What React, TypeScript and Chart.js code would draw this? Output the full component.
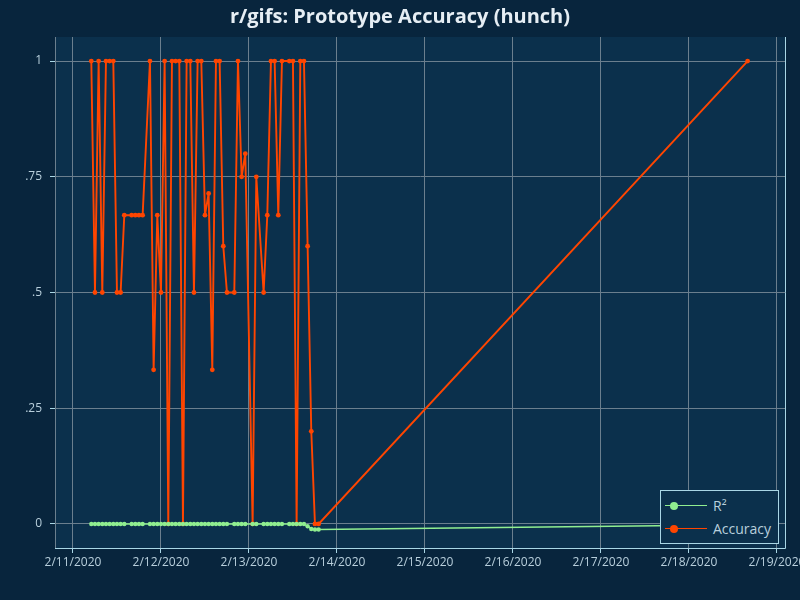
import { useEffect, useRef } from 'react';
import { Chart, registerables } from 'chart.js';

Chart.register(...registerables);

// hours since 2/11/2020 00:00
const hours = [5, 6, 7, 8, 9, 10, 11, 12, 13, 14, 16, 17, 18, 19, 21, 22, 23, 24, 25, 26, 27, 28, 29, 30, 31, 32, 33, 34, 35, 36, 37, 38, 39, 40, 41, 42, 44, 45, 46, 47, 49, 50, 52, 53, 54, 55, 56, 57, 59, 60, 61, 62, 63, 64, 65, 66, 67, 184];
const accuracy = [1, 0.5, 1, 0.5, 1, 1, 1, 0.5, 0.5, 0.667, 0.667, 0.667, 0.667, 0.667, 1, 0.333, 0.667, 0.5, 1, 0, 1, 1, 1, 0, 1, 1, 0.5, 1, 1, 0.667, 0.714, 0.333, 1, 1, 0.6, 0.5, 0.5, 1, 0.75, 0.8, 0, 0.75, 0.5, 0.667, 1, 1, 0.667, 1, 1, 1, 0, 1, 1, 0.6, 0.2, 0, 0, 1];
const rSquared = [0, 0, 0, 0, 0, 0, 0, 0, 0, 0, 0, 0, 0, 0, 0, 0, 0, 0, 0, 0, 0, 0, 0, 0, 0, 0, 0, 0, 0, 0, 0, 0, 0, 0, 0, 0, 0, 0, 0, 0, 0, 0, 0, 0, 0, 0, 0, 0, 0, 0, 0, 0, 0, -0.005, -0.011, -0.012, -0.012, -0.002];
const yTicks = [0, 0.25, 0.5, 0.75, 1];
const yTickLabels = ['0', '.25', '.5', '.75', '1'];

const GREEN = '#90ee90';
const ORANGE = '#ff4500';
const TEXT = '#b8cfdc';

const plotBg = {
  id: 'plotBg',
  beforeDraw(chart: Chart) {
    const { ctx, chartArea: a } = chart;
    ctx.save();
    ctx.fillStyle = '#0b304c';
    ctx.fillRect(a.left, a.top, a.right - a.left, a.bottom - a.top);
    ctx.restore();
  },
  afterDatasetsDraw(chart: Chart) {
    const { ctx, chartArea: a } = chart;
    ctx.save();
    ctx.strokeStyle = '#a9d6e5';
    ctx.lineWidth = 1;
    ctx.beginPath();
    ctx.moveTo(a.left, a.bottom + 0.5);
    ctx.lineTo(a.right + 0.5, a.bottom + 0.5);
    ctx.lineTo(a.right + 0.5, a.top);
    ctx.stroke();
    ctx.restore();
  },
};

function dateLabel(h: number) {
  const d = new Date(2020, 1, 11 + Math.round(h / 24));
  return `${d.getMonth() + 1}/${d.getDate()}/${d.getFullYear()}`;
}

export default function App() {
  const canvasRef = useRef<HTMLCanvasElement>(null);
  const chartRef = useRef<Chart | null>(null);

  useEffect(() => {
    if (!canvasRef.current) return;
    if (chartRef.current) chartRef.current.destroy();
    document.body.style.margin = '0';

    chartRef.current = new Chart(canvasRef.current, {
      type: 'line',
      data: {
        datasets: [
          {
            label: 'R²',
            data: hours.map((h, i) => ({ x: h, y: rSquared[i] })),
            borderColor: GREEN,
            backgroundColor: GREEN,
            borderWidth: 1.5,
            pointRadius: 2.2,
            pointBorderWidth: 0,
          },
          {
            label: 'Accuracy',
            data: hours.map((h, i) => ({ x: h, y: accuracy[i] })),
            borderColor: ORANGE,
            backgroundColor: ORANGE,
            borderWidth: 1.9,
            pointRadius: 2.4,
            pointBorderWidth: 0,
          },
        ],
      },
      options: {
        responsive: false,
        animation: false,
        layout: { padding: 0 },
        plugins: {
          legend: { display: false },
          tooltip: { enabled: false },
          title: {
            display: true,
            text: 'r/gifs: Prototype Accuracy (hunch)',
            color: '#e6eef4',
            font: { family: 'Open Sans', size: 20, weight: 'bold' },
            padding: { top: 5, bottom: 8 },
          },
        },
        scales: {
          x: {
            type: 'linear',
            min: -4.9,
            max: 194.2,
            afterBuildTicks: (axis: any) => {
              axis.ticks = [0, 24, 48, 72, 96, 120, 144, 168, 192].map((v) => ({ value: v }));
            },
            afterFit: (axis: any) => {
              axis.height = 52;
              axis.paddingRight = 15;
            },
            grid: { color: '#6b7f8e', drawTicks: true, tickLength: 5, tickColor: '#a9d6e5' },
            border: { display: false },
            ticks: {
              color: TEXT,
              font: { family: 'Open Sans', size: 12 },
              maxRotation: 0,
              autoSkip: false,
              padding: 2,
              callback: (v: any) => dateLabel(Number(v)),
            },
          },
          y: {
            min: -0.052,
            max: 1.052,
            afterBuildTicks: (axis: any) => {
              axis.ticks = yTicks.map((v) => ({ value: v }));
            },
            afterFit: (axis: any) => {
              axis.width = 55;
            },
            grid: { color: '#6b7f8e', tickLength: 5, tickColor: '#a9d6e5' },
            border: { color: '#6b7f8e' },
            ticks: {
              color: TEXT,
              font: { family: 'Open Sans', size: 12 },
              padding: 8,
              callback: (v: any) => {
                const i = yTicks.indexOf(Number(v));
                return i >= 0 ? yTickLabels[i] : '';
              },
            },
          },
        },
      },
      plugins: [plotBg],
    });

    return () => {
      if (chartRef.current) chartRef.current.destroy();
    };
  }, []);

  const legendRow = (color: string, label: string) => (
    <div style={{ display: 'flex', alignItems: 'center', height: 23 }}>
      <div style={{ position: 'relative', width: 42, height: 10, marginRight: 6 }}>
        <div style={{ position: 'absolute', left: 0, right: 0, top: 4, height: 1.5, background: color }} />
        <div style={{ position: 'absolute', left: 5, top: 1, width: 8, height: 8, borderRadius: 4, background: color }} />
      </div>
      <span>{label}</span>
    </div>
  );

  return (
    <div style={{ position: 'relative', width: 800, height: 600, background: '#08253d' }}>
      <canvas ref={canvasRef} width={800} height={600} />
      <div
        style={{
          position: 'absolute',
          left: 660,
          top: 490,
          width: 119,
          padding: '3px 4px',
          border: '1px solid #a9d6e5',
          background: '#0b304c',
          color: TEXT,
          fontFamily: 'Open Sans',
          fontSize: 14,
          boxSizing: 'border-box',
        }}
      >
        {legendRow(GREEN, 'R²')}
        {legendRow(ORANGE, 'Accuracy')}
      </div>
    </div>
  );
}
